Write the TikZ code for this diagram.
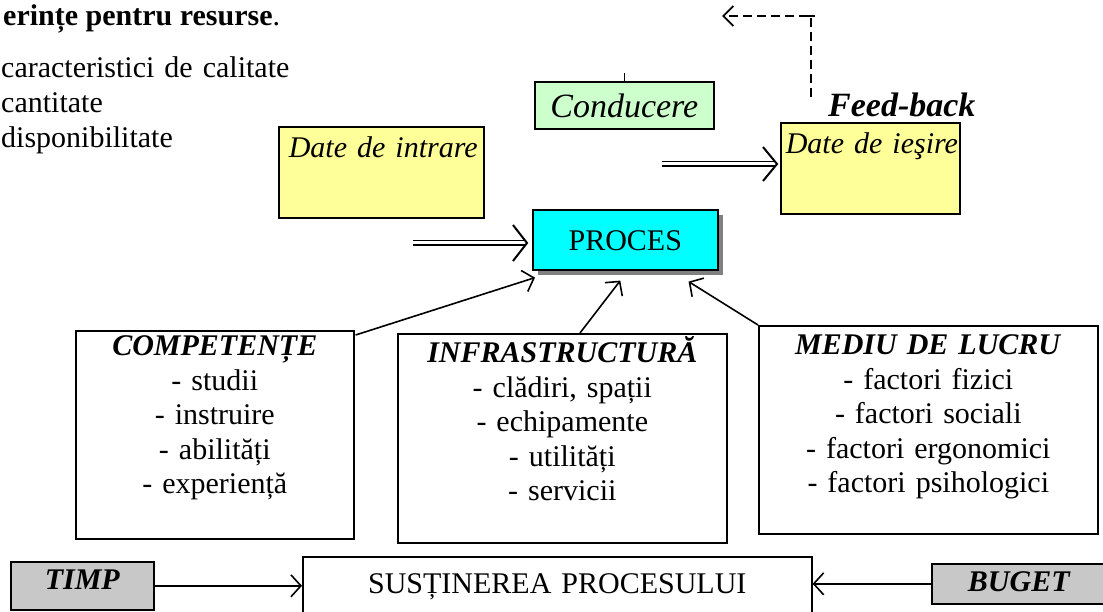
\documentclass[tikz,border=0pt]{standalone}
\usepackage{fontspec}
\setmainfont{Liberation Serif}
\usetikzlibrary{arrows.meta,calc,shadows}
\definecolor{yel}{HTML}{FFFF99}
\definecolor{grn}{HTML}{CCFFCC}
\definecolor{cya}{HTML}{00FFFF}
\definecolor{gry}{HTML}{C8C8C8}
\definecolor{shd}{HTML}{808080}
\newcommand\fsz{\fontsize{30}{34.5}\selectfont}
\begin{document}
\begin{tikzpicture}[x=1pt,y=-1pt,
  box/.style={draw, line width=1.6pt, inner sep=0pt, anchor=north west, align=center, font=\fsz},
  arr/.style={line width=1.6pt, -{Straight Barb[length=10pt,width=22pt]}},
  dbl/.style={line width=1.8pt, double distance=3pt, shorten >=1pt},
  barbline/.style={line width=2pt, line join=miter},
  fbline/.style={line width=1.8pt, dash pattern=on 9pt off 5pt, -{Straight Barb[length=10pt,width=20pt]}},
  txt/.style={inner sep=0pt, font=\fsz}
]
\useasboundingbox (0,0) rectangle (1103,612);
\clip (0,0) rectangle (1103,612);

% top-left text
\node[txt, anchor=base west, font=\fsz\bfseries] (hdr) at (3,26) {erințe pentru resurse\textmd{.}};
\node[txt, anchor=base west, text width=320pt, align=left, font=\fontsize{30}{35}\selectfont] (lst) at (1,78)
  {caracteristici de calitate\\cantitate\\disponibilitate};

% top boxes
\node[box, fill=yel, text width=185pt, inner xsep=10pt, align=left, text height=31pt, text depth=60pt, font=\fsz\itshape] (din) at (278,126) {\mbox{Date de intrare}};
\node[box, fill=grn, text width=179pt, text height=36pt, text depth=11pt, font=\fontsize{34}{40}\selectfont\itshape] (cond) at (534,81) {\mbox{Conducere}};
\node[box, fill=yel, text width=169pt, inner xsep=5pt, align=left, text height=31pt, text depth=60pt, font=\fsz\itshape] (dies) at (780,122) {\mbox{Date de ieşire}};
\node[txt, anchor=base west, font=\fontsize{34}{40}\selectfont\bfseries\itshape] (fb) at (828,117) {Feed-back};

% PROCES
\node[box, fill=cya, text width=185pt, text height=41pt, text depth=19pt,
  drop shadow={shadow xshift=5pt, shadow yshift=-5pt, fill=shd, opacity=1}] (proc) at (532,209) {PROCES};

% resource boxes
\node[box, fill=white, text width=278pt, text height=25pt, text depth=183pt] (comp) at (75,330)
  {\textbf{\textit{COMPETENȚE}}\\- studii\\- instruire\\- abilități\\- experiență};
\node[box, fill=white, text width=329pt, text height=29pt, text depth=180pt] (infra) at (397,333)
  {\textbf{\textit{INFRASTRUCTURĂ}}\\- clădiri, spații\\- echipamente\\- utilități\\- servicii};
\node[box, fill=white, text width=339pt, text height=29pt, text depth=179pt] (mediu) at (758,325)
  {\textbf{\textit{MEDIU DE LUCRU}}\\- factori fizici\\- factori sociali\\- factori ergonomici\\- factori psihologici};

% bottom row
\node[box, fill=gry, text width=143pt, text height=28pt, text depth=20pt, font=\fsz\bfseries\itshape] (timp) at (10,561) {TIMP};
\node[box, fill=white, text width=509pt, text height=37pt, text depth=40pt] (sus) at (302,556) {\mbox{SUSȚINEREA PROCESULUI}};
\node[box, fill=gry, text width=174pt, text height=28pt, text depth=12pt, font=\fsz\bfseries\itshape] (buget) at (931,563) {BUGET};

% connectors
\draw[line width=1.5pt] (cond.north) -- ++(0,-8);

\coordinate (pin) at (413,243);
\coordinate (ptip) at ($(pin -| proc.west)+(-5,0)$);
\draw[dbl] (pin) -- (ptip);
\draw[barbline] ($(ptip)+(-14,-18)$) -- (ptip) -- ($(ptip)+(-14,18)$);

\coordinate (dout) at (662,164);
\coordinate (dtip) at ($(dout -| dies.west)+(-3,0)$);
\draw[dbl] (dout) -- (dtip);
\draw[barbline] ($(dtip)+(-14,-17)$) -- (dtip) -- ($(dtip)+(-14,17)$);

\coordinate (fb1) at (811,97);
\coordinate (fb2) at (811,16);
\coordinate (fb3) at (722,16);
\draw[fbline] (fb1) -- (fb2) -- (fb3);
\draw[line width=1.8pt] ($(fb2)+(-4,0)$) -- ($(fb2)+(4,0)$);

\draw[arr] ($(comp.north east)+(1,5)$) -- ($(proc.south west)+(3,7)$);
\draw[arr] ($(infra.north west)+(183,0)$) -- ($(proc.south)+(-5,10)$);
\draw[arr] (mediu.north west) -- ($(proc.south east)+(-30,11)$);

\draw[arr] (timp.east) -- (timp.east -| sus.west);
\draw[arr] (buget.west) -- (buget.west -| sus.east);
\end{tikzpicture}
\end{document}
